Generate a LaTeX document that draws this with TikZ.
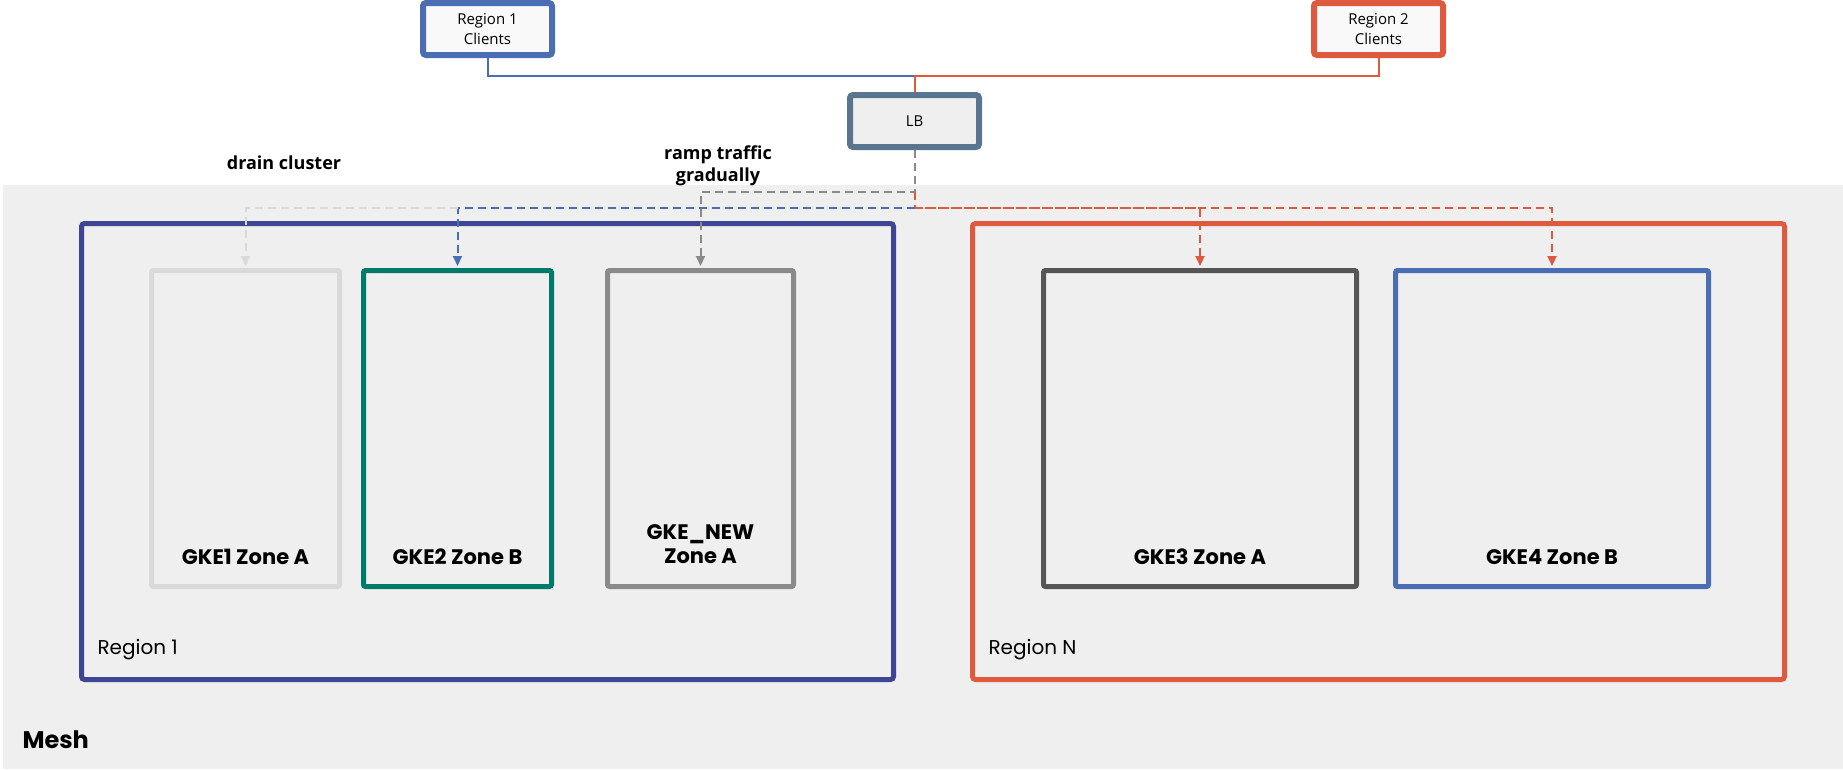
\documentclass[tikz,border=0pt]{standalone}
\usepackage{fontspec}
\setmainfont{Open Sans}
\newfontfamily\popfont{Poppins}
\usetikzlibrary{positioning, arrows.meta}

\definecolor{meshgray}{HTML}{EFEFEF}
\definecolor{clientblue}{HTML}{4A6DB4}
\definecolor{clientred}{HTML}{DD5A3F}
\definecolor{lbslate}{HTML}{5A7590}
\definecolor{regionindigo}{HTML}{3E4595}
\definecolor{draingray}{HTML}{D9D9D9}
\definecolor{zoneteal}{HTML}{007B69}
\definecolor{rampgray}{HTML}{8A8A8A}
\definecolor{darkzone}{HTML}{555555}

\begin{document}
\begin{tikzpicture}[
    x=1pt, y=-1pt,
    client/.style={
      draw, line width=6pt, rounded corners=3pt, fill=#1, align=center,
      minimum width=129pt, minimum height=52pt, inner sep=0pt,
      font=\fontsize{15}{20}\selectfont
    },
    region/.style={
      draw=#1, line width=5pt, rounded corners=3pt,
      minimum width=812pt, minimum height=456pt, inner sep=0pt
    },
    cluster/.style={
      draw=#1, line width=5pt, rounded corners=2pt,
      minimum height=316pt, inner sep=0pt
    },
    zonetext/.style={font=\popfont\bfseries\fontsize{21}{24}\selectfont, align=center},
    regiontext/.style={font=\popfont\fontsize{20}{24}\selectfont, anchor=west},
    note/.style={font=\bfseries\fontsize{18}{22}\selectfont, align=center},
    wire/.style={line width=2pt},
    flow/.style={line width=2pt, dash pattern=on 8pt off 5pt, shorten >=2pt,
      -{Triangle[length=10pt,width=9pt]}},
  ]
    \useasboundingbox (0,0) rectangle (1843,769);
    \fill[meshgray] (3,185) rectangle (1843,769);
    \node[font=\popfont\bfseries\fontsize{24}{28}\selectfont, anchor=west] (meshlabel) at (19,740) {Mesh};

    % clients and load balancer
    \node[client=white!60!meshgray, draw=clientblue] (r1c) at (487.5,29) {Region 1\\Clients};
    \node[client=white!60!meshgray, draw=clientred] (r2c) at (1378.5,29) {Region 2\\Clients};
    \node[client=meshgray, draw=lbslate] (lb) at (914.5,121) {LB};

    % regions
    \node[region=regionindigo] (region1) at (487.5,451.5) {};
    \node[region=clientred] (regionN) at (1378.5,451.5) {};
    \node[regiontext] (region1label) at (94,650) {Region 1};
    \node[regiontext] (regionNlabel) at (985,650) {Region N};

    % clusters
    \node[cluster=draingray, minimum width=188pt] (gke1) at (245.5,428.5) {};
    \node[cluster=zoneteal, minimum width=188pt] (gke2) at (457.5,428.5) {};
    \node[cluster=rampgray, minimum width=186pt] (gkenew) at (700.5,428.5) {};
    \node[cluster=darkzone, minimum width=313pt] (gke3) at (1200,428.5) {};
    \node[cluster=clientblue, minimum width=313pt] (gke4) at (1552,428.5) {};

    \node[zonetext] (gke1text) at (245.5,557) {GKE1 Zone A};
    \node[zonetext] (gke2text) at (457.5,557) {GKE2 Zone B};
    \node[zonetext] (gkenewtext) at (700.5,544) {GKE\_NEW\\Zone A};
    \node[zonetext] (gke3text) at (1200,557) {GKE3 Zone A};
    \node[zonetext] (gke4text) at (1552,557) {GKE4 Zone B};

    \node[note] (drainnote) at (284,163) {drain cluster};
    \node[note] (rampnote) at (718,166) {ramp traffic\\gradually};

    % connectors
    \coordinate (split) at (914.5,76);
    \coordinate (rampknee) at (914.5,192);
    \coordinate (fork) at (914.5,208);
    \draw[wire, clientblue] (r1c.south) |- (split);
    \draw[wire, clientred] (r2c.south) |- (split) -- (lb.north);
    \draw[flow, rampgray] (lb.south) -- (rampknee) -| (gkenew.north);
    \draw[flow, clientred] (rampknee) -- (fork) -| (gke4.north);
    \draw[flow, clientred] (fork) -| (gke3.north);
    \draw[flow, clientblue] (fork) -| (gke2.north);
    \draw[flow, draingray] (gke2.north |- fork) -| (gke1.north);
  \end{tikzpicture}
\end{document}
